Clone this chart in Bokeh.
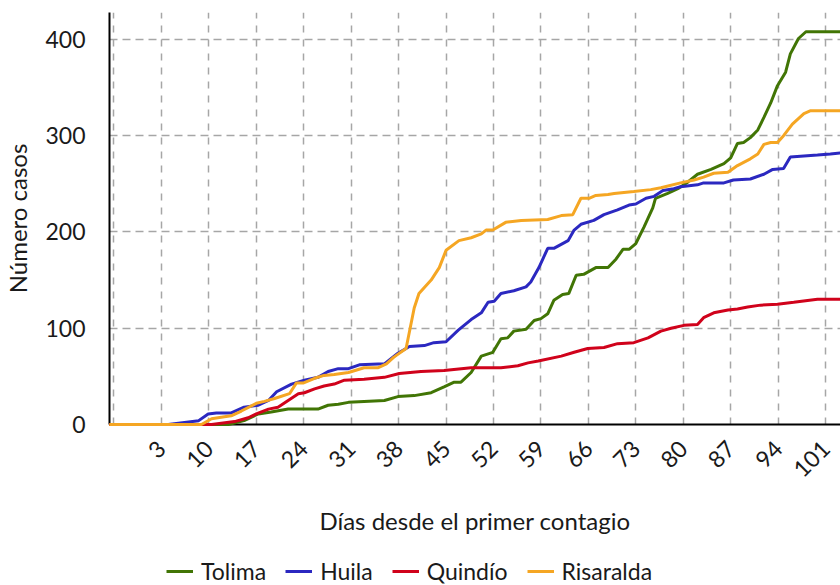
import math
from bokeh.plotting import figure
from bokeh.layouts import column
from bokeh.models import Legend, LegendItem, FixedTicker, Range1d
from bokeh.embed import file_html
from bokeh.resources import INLINE

# ---- data ----
tolima_day = [-4.7, 12.9, 15.2, 17.3, 19.2, 21.7, 26.1, 27.6, 29.1, 30.6, 32.9, 35.9, 37.9, 40.3, 42.8,
              44.7, 46.2, 47.2, 48.7, 50.2, 51.9, 53.1, 54.1, 55.0, 56.8, 58.0, 59.0, 60.0, 60.9, 62.2,
              63.1, 64.2, 65.3, 67.1, 68.9, 70.1, 71.1, 72.0, 73.0, 74.2, 75.5, 75.9, 77.7, 79.2, 80.7,
              82.1, 84.1, 86.0, 87.0, 88.0, 88.9, 89.9, 91.0, 91.9, 92.9, 93.9, 95.1, 95.8, 97.0, 98.1, 103.2]
tolima_cases = [0, 0, 4, 11, 13, 16, 16, 20, 21, 23, 24, 25, 29, 30, 33,
                39, 44, 44, 54, 71, 75, 89, 90, 97, 99, 108, 110, 115, 129, 135,
                136, 155, 156, 163, 163, 172, 182, 182, 188, 205, 225, 235, 240, 245, 252,
                260, 265, 271, 277, 292, 293, 298, 306, 319, 334, 352, 366, 385, 401, 408, 408]

huila_day = [-4.7, 4.0, 8.5, 9.9, 11.1, 13.3, 15.2, 17.3, 18.8, 20.0, 22.2, 24.1, 26.1, 27.6, 29.1,
             30.6, 32.2, 35.9, 37.9, 39.6, 41.8, 43.2, 45.0, 46.8, 48.7, 50.2, 51.2, 52.1, 53.1, 55.0,
             56.8, 57.5, 58.7, 60.0, 60.9, 63.0, 63.9, 64.9, 66.8, 68.3, 70.3, 72.0, 73.0, 74.5, 75.7,
             77.0, 78.6, 79.6, 82.1, 83.0, 86.0, 87.4, 89.9, 91.9, 93.2, 94.8, 95.8, 97.8, 99.8, 101.7, 103.2]
huila_cases = [0, 0, 4, 11, 12, 12, 18, 20, 25, 34, 42, 46, 49, 55, 58,
               58, 62, 63, 74, 81, 82, 85, 86, 98, 109, 116, 127, 128, 136, 139,
               143, 148, 163, 183, 183, 191, 202, 208, 212, 218, 223, 228, 229, 235, 237,
               243, 245, 247, 249, 251, 251, 254, 255, 260, 265, 266, 278, 279, 280, 281, 282]

quindio_day = [-4.7, 10.4, 13.8, 15.8, 17.0, 18.8, 20.2, 21.7, 23.2, 24.1, 25.6, 27.0, 28.5, 30.0, 32.9,
               35.9, 38.1, 41.3, 44.7, 48.7, 53.1, 55.6, 57.1, 58.6, 62.0, 63.9, 65.9, 68.3, 70.3, 72.7,
               74.8, 76.7, 78.2, 80.1, 82.1, 83.0, 84.5, 86.6, 88.0, 89.5, 91.4, 93.9, 96.3, 99.8, 103.2]
quindio_cases = [0, 0, 3, 7, 11, 16, 18, 25, 32, 33, 37, 40, 42, 46, 47,
                 49, 53, 55, 56, 59, 59, 61, 64, 66, 71, 75, 79, 80, 84, 85,
                 90, 97, 100, 103, 104, 111, 116, 119, 120, 122, 124, 125, 127, 130, 130]

risaralda_day = [-4.7, 8.9, 10.4, 12.3, 13.3, 14.8, 17.0, 18.2, 19.7, 21.9, 22.9, 23.9, 25.6, 27.0, 28.5,
                 30.6, 32.9, 35.0, 36.2, 37.3, 39.1, 40.3, 41.0, 42.8, 44.0, 45.0, 46.9, 48.7, 50.2, 50.9,
                 51.9, 53.8, 56.1, 60.0, 62.0, 63.7, 64.9, 66.1, 67.1, 68.9, 69.8, 72.7, 75.2, 76.7, 79.6,
                 81.6, 83.0, 84.5, 86.6, 88.0, 89.9, 91.0, 91.9, 92.9, 93.9, 94.8, 96.1, 97.8, 98.8, 103.2]
risaralda_cases = [0, 0, 6, 8, 9, 14, 22, 24, 27, 32, 43, 43, 48, 51, 52,
                   54, 59, 59, 63, 70, 79, 121, 136, 150, 163, 181, 191, 194, 198, 202,
                   202, 210, 212, 213, 217, 218, 235, 235, 238, 239, 240, 242, 244, 246, 251,
                   254, 257, 261, 262, 269, 276, 281, 291, 293, 293, 300, 312, 323, 326, 326]

x_tick_days = [3, 10, 17, 24, 31, 38, 45, 52, 59, 66, 73, 80, 87, 94, 101]
x_tick_labels = [str(d) for d in x_tick_days]
x_grid_days = [-4] + x_tick_days
y_ticks = [0, 100, 200, 300, 400]
y_grid = [100, 200, 300, 400]

series_names = ["Tolima", "Huila", "Quindío", "Risaralda"]
series_colors = ["#417505", "#2b28c0", "#d0021b", "#f5a623"]
series_days = [tolima_day, huila_day, quindio_day, risaralda_day]
series_cases = [tolima_cases, huila_cases, quindio_cases, risaralda_cases]

FONT = "Lato"
TXT = "#1a1a1a"
LEG_H = 35

p = figure(width=840, height=585 - LEG_H, output_backend="svg", toolbar_location=None,
           x_range=Range1d(-4.66, 103.2), y_range=Range1d(0, 428),
           min_border_left=108, min_border_right=0, min_border_top=12,
           min_border_bottom=585 - LEG_H - 12 - 412)
p.outline_line_color = None

# grids
p.xgrid.ticker = FixedTicker(ticks=x_grid_days)
p.ygrid.ticker = FixedTicker(ticks=y_grid)
for g, dash in ((p.xgrid, "7 7"), (p.ygrid, "8 5")):
    g.grid_line_color = "#a6a6a6"
    g.grid_line_width = 1.5
    g.grid_line_dash = dash

# axes
p.xaxis.ticker = FixedTicker(ticks=x_tick_days)
p.xaxis.major_label_overrides = {d: lab for d, lab in zip(x_tick_days, x_tick_labels)}
p.yaxis.ticker = FixedTicker(ticks=y_ticks)
for ax in (p.xaxis[0], p.yaxis[0]):
    ax.axis_line_color = "black"
    ax.axis_line_width = 2
    ax.major_tick_out = 0
    ax.major_tick_in = 0
    ax.minor_tick_out = 0
    ax.minor_tick_in = 0
    ax.major_label_text_font = FONT
    ax.major_label_text_font_size = "23px"
    ax.major_label_text_color = TXT
    ax.axis_label_text_font = FONT
    ax.axis_label_text_font_size = "24px"
    ax.axis_label_text_font_style = "normal"
    ax.axis_label_text_color = TXT

p.xaxis.axis_label = "Días desde el primer contagio"
p.xaxis.major_label_orientation = math.pi / 4
p.xaxis.major_label_standoff = 20
p.xaxis.axis_label_standoff = 18
p.yaxis.axis_label = "Número casos"
p.yaxis.major_label_standoff = 24
p.yaxis.axis_label_standoff = 10

for days, cases, color in zip(series_days, series_cases, series_colors):
    p.line(days, cases, line_color=color, line_width=3, level="overlay")

# ---- legend strip below the chart (its lines are kept out of view) ----
lf = figure(width=840, height=LEG_H, output_backend="svg", toolbar_location=None,
            x_range=Range1d(1000, 1001), y_range=Range1d(1000, 1001),
            min_border_left=0, min_border_right=0, min_border_top=0, min_border_bottom=0)
lf.outline_line_color = None
lf.axis.visible = False
lf.grid.visible = False
leg_renderers = [lf.line(d, c, line_color=col, line_width=3)
                 for d, c, col in zip(series_days, series_cases, series_colors)]
legend = Legend(items=[LegendItem(label=n, renderers=[r]) for n, r in zip(series_names, leg_renderers)],
                orientation="horizontal", location=(57, 0),
                label_text_font=FONT, label_text_font_size="23px", label_text_color=TXT,
                glyph_width=27, glyph_height=20, label_standoff=8, spacing=19,
                padding=0, margin=0, border_line_color=None, background_fill_alpha=0)
lf.add_layout(legend, "center")

open("out.html", "w").write(file_html(column(p, lf), INLINE))
